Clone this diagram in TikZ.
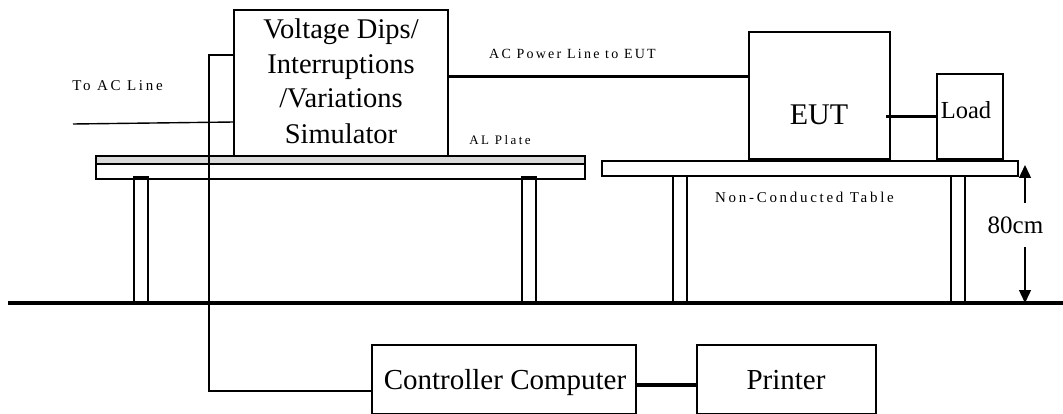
\documentclass[tikz,border=0pt]{standalone}
\usepackage{fontspec}
\setmainfont{Liberation Serif}
\newfontfamily\spacedfont[LetterSpace=18]{Liberation Serif}
\newfontfamily\spacedfontB[LetterSpace=16]{Liberation Serif}
\newfontfamily\spacedfontC[LetterSpace=19]{Liberation Serif}
\usetikzlibrary{arrows.meta}
\definecolor{plategray}{HTML}{D9D9D9}
\begin{document}
\begin{tikzpicture}[x=1pt,y=-1pt,
  box/.style={draw, line width=1.4pt, inner sep=0pt, outer sep=0pt, anchor=north west},
  wire/.style={line width=1.4pt},
  heavy/.style={line width=3pt},
  lbl/.style={inner sep=0pt, anchor=base},
  big/.style={lbl, font=\fontsize{29}{29}\selectfont},
  simtxt/.style={lbl, font=\fontsize{28.5}{28.5}\selectfont},
  dimtip/.style={-{Triangle[length=13pt,width=12pt]}}
]
\useasboundingbox (0,0) rectangle (1063,414);
\clip (0,0) rectangle (1063,414);

% left table with AL plate
\node[box, fill=white, minimum width=489pt, minimum height=23pt] (tableL) at (96,156) {};
\node[box, fill=plategray, minimum width=489pt, minimum height=8pt] (plate) at (96,156) {};
\node[box, minimum width=14pt, minimum height=126pt] (legL1) at (134,177) {};
\node[box, minimum width=14pt, minimum height=126pt] (legL2) at (522,177) {};

% right table
\node[box, fill=white, minimum width=416pt, minimum height=15pt] (tableR) at (602,161) {};
\node[box, minimum width=14pt, minimum height=127pt] (legR1) at (673,176) {};
\node[box, minimum width=14pt, minimum height=127pt] (legR2) at (951,176) {};

% simulator
\node[box, minimum width=214pt, minimum height=146pt] (sim) at (234,10) {};
\node[simtxt] (sim1) at (341,39) {Voltage Dips/};
\node[simtxt] (sim2) at (341,74) {Interruptions};
\node[simtxt] (sim3) at (341,108) {/Variations};
\node[simtxt] (sim4) at (341,144) {Simulator};

% EUT and load
\node[box, minimum width=141pt, minimum height=127pt] (eut) at (749,32) {};
\node[lbl, font=\fontsize{30}{30}\selectfont] (eutlbl) at (819,125) {EUT};
\node[box, minimum width=66pt, minimum height=85pt] (load) at (937,74) {};
\node[lbl, font=\fontsize{24.5}{24.5}\selectfont] (loadlbl) at (966,119) {Load};

% controller computer and printer
\node[box, minimum width=264pt, minimum height=69pt] (comp) at (372,345) {};
\node[big] (complbl) at (505,389) {Controller Computer};
\node[box, minimum width=179pt, minimum height=69pt] (printer) at (697,345) {};
\node[big] (printerlbl) at (786,389) {Printer};

% small labels
\node[lbl, font=\fontsize{15}{15}\spacedfont] (toac) at (117.5,91) {To AC Line};
\node[lbl, font=\fontsize{14}{14}\spacedfontB] (acpower) at (572.5,59) {AC Power Line to EUT};
\node[lbl, font=\fontsize{13}{13}\spacedfontC] (alplate) at (500,145) {AL Plate};
\node[lbl, font=\fontsize{15}{15}\spacedfont] (nontable) at (804.5,203) {Non-Conducted Table};

% connectors
\coordinate (ctrlturn) at (209,55);
\draw[wire] (sim.west |- ctrlturn) -- (ctrlturn) |- ([yshift=-11.5pt]comp.west);
\coordinate (acsrc) at (73,124);
\draw[wire] (acsrc) -- ([yshift=-39pt]sim.west);
\draw[heavy] ([yshift=6pt]sim.east) -- ([yshift=6pt]sim.east -| eut.west);
\draw[heavy] ([xshift=-4pt]eut.east |- load.west) -- (load.west);
\draw[line width=3.2pt] ([yshift=-5.5pt]comp.east) -- ([yshift=-5.5pt]comp.east -| printer.west);

% ground
\coordinate (gL) at (8,303);
\coordinate (gR) at (1063,303);
\draw[line width=3.5pt] (gL) -- (gR);

% 80cm dimension
\coordinate (dimtop) at (1025,165);
\coordinate (dimbot) at (1025,303);
\coordinate (dimu) at (1025,203);
\coordinate (diml) at (1025,247);
\draw[wire, dimtip] (dimu) -- (dimtop);
\draw[wire, dimtip] (diml) -- (dimbot);
\node[lbl, font=\fontsize{25}{25}\selectfont] (dimlbl) at (1015.5,234) {80cm};
\end{tikzpicture}
\end{document}
